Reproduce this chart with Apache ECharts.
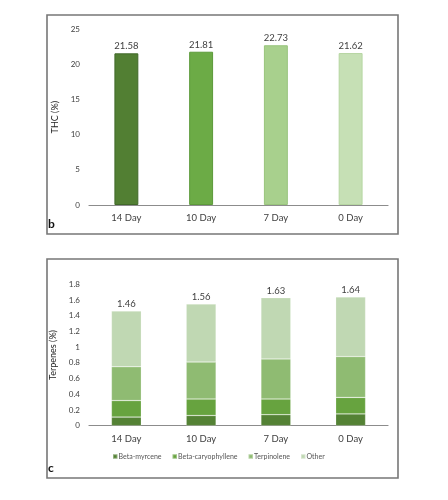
<!DOCTYPE html>
<html><head><meta charset="utf-8">
<script src="https://cdn.jsdelivr.net/npm/echarts@6/dist/echarts.min.js"></script>
<style>html,body{margin:0;padding:0;background:#fff}#c{width:448px;height:500px}</style>
</head><body><div id="c"></div>
<script>
const categories = ['14 Day', '10 Day', '7 Day', '0 Day'];
const thcValues = [21.58, 21.81, 22.73, 21.62];
const thcColors = ['#527f33', '#6cab46', '#a8d08d', '#c6e0b5'];
const thcBorders = ['#41692a', '#5c9a3a', '#98c47c', '#b6d6a2'];
const thcTicks = [0, 5, 10, 15, 20, 25];
const seriesNames = ['Beta-myrcene', 'Beta-caryophyllene', 'Terpinolene', 'Other'];
const myrcene = [0.11, 0.13, 0.14, 0.15];
const caryophyllene = [0.21, 0.21, 0.20, 0.21];
const terpinolene = [0.43, 0.47, 0.51, 0.52];
const other = [0.71, 0.74, 0.78, 0.76];
const totals = [1.46, 1.56, 1.63, 1.64];
const terpColors = ['#548235', '#67a33f', '#8fbb72', '#c0d8b3'];
const terpTicks = [0, 0.2, 0.4, 0.6, 0.8, 1, 1.2, 1.4, 1.6, 1.8];

const FONT = 'Lato';
const chart = echarts.init(document.getElementById('c'), null, {renderer: 'canvas'});
const terpData = [myrcene, caryophyllene, terpinolene, other];

const yAxisCommon = {
  axisLine: {show: false}, axisTick: {show: false}, splitLine: {show: false},
  axisLabel: {color: '#404040', fontSize: 8, fontFamily: FONT, margin: 9},
  nameLocation: 'middle', nameGap: 22,
  nameTextStyle: {color: '#222', fontSize: 9, fontFamily: FONT}
};
const xAxisCommon = {
  type: 'category', data: categories,
  axisLine: {lineStyle: {color: '#8c8c8c', width: 1.2}}, axisTick: {show: false},
  axisLabel: {color: '#404040', fontSize: 9.5, fontFamily: FONT, margin: 8}
};

chart.setOption({
  animation: false,
  textStyle: {fontFamily: FONT},
  grid: [
    {left: 89, right: 60, top: 29.3, bottom: 295},
    {left: 89, right: 60, top: 284.3, bottom: 74.3}
  ],
  xAxis: [
    Object.assign({gridIndex: 0}, xAxisCommon),
    Object.assign({gridIndex: 1}, xAxisCommon)
  ],
  yAxis: [
    Object.assign({gridIndex: 0, type: 'value', min: 0, max: 25, interval: 5, name: 'THC (%)'}, yAxisCommon),
    Object.assign({gridIndex: 1, type: 'value', min: 0, max: 1.8, interval: 0.2, name: 'Terpenes (%)'}, yAxisCommon)
  ],
  legend: {
    bottom: 35, left: 107, itemWidth: 4.5, itemHeight: 4.5, itemGap: 10,
    icon: 'rect', data: seriesNames,
    textStyle: {color: '#555', fontSize: 7, fontFamily: FONT, padding: [0, 0, 0, -4]}
  },
  graphic: [
    {type: 'rect', shape: {x: 47, y: 15, width: 351, height: 219}, style: {fill: 'none', stroke: '#777', lineWidth: 1.6}, z: 100},
    {type: 'rect', shape: {x: 47, y: 259, width: 351, height: 219}, style: {fill: 'none', stroke: '#777', lineWidth: 1.6}, z: 100},
    {type: 'text', left: 48, top: 218, style: {text: 'b', font: 'bold 12px Lato', fill: '#111'}},
    {type: 'text', left: 48, top: 462, style: {text: 'c', font: 'bold 12px Lato', fill: '#111'}}
  ],
  series: [
    {
      type: 'bar', xAxisIndex: 0, yAxisIndex: 0, barWidth: '32%',
      data: thcValues.map((v, i) => ({value: v, itemStyle: {color: thcColors[i], borderColor: thcBorders[i], borderWidth: 1}})),
      label: {show: true, position: 'top', distance: 2, color: '#404040', fontSize: 9.5, fontFamily: FONT}
    }
  ].concat(seriesNames.map((name, k) => ({
    type: 'bar', name: name, xAxisIndex: 1, yAxisIndex: 1, stack: 'terp', barWidth: '40%',
    data: terpData[k],
    itemStyle: {color: terpColors[k], borderColor: 'rgba(255,255,255,0.35)', borderWidth: 0.6},
    label: k === 3 ? {
      show: true, position: 'top', distance: 2, color: '#404040', fontSize: 9.5, fontFamily: FONT,
      formatter: p => totals[p.dataIndex].toFixed(2)
    } : {show: false}
  })))
});
</script></body></html>
